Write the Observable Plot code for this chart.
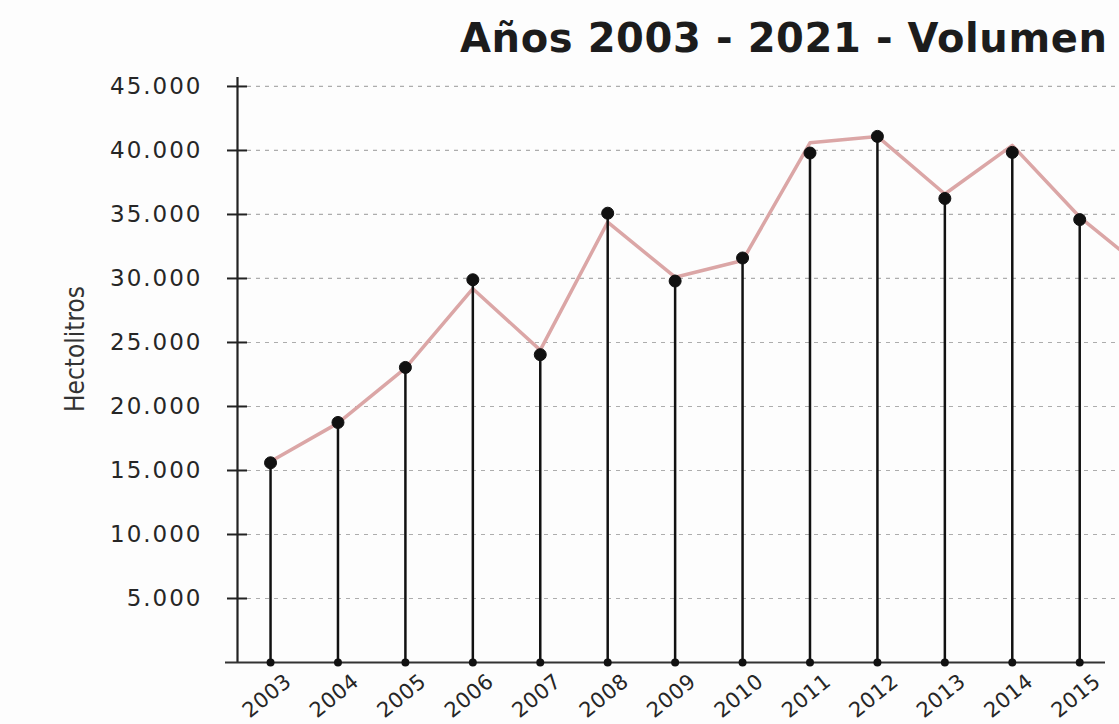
<!DOCTYPE html>
<html>
<head>
<meta charset="utf-8">
<script src="https://cdn.jsdelivr.net/npm/d3@7"></script>
<script src="https://cdn.jsdelivr.net/npm/@observablehq/plot@0.6"></script>
<style>
  html, body { margin: 0; padding: 0; background: #fdfdfd; }
  #wrap { width: 1119px; height: 724px; overflow: hidden; }
  #title {
    box-sizing: border-box; height: 70px; padding-top: 18px; padding-left: 460px;
    font-family: "DejaVu Sans", sans-serif; font-weight: bold; font-size: 40px; line-height: 40px;
    letter-spacing: 0.6px; color: #1c1c1c; white-space: nowrap; overflow: hidden;
  }
  g[aria-label="y-axis tick label"] text { letter-spacing: 2px; }
  g[aria-label="x-axis tick label"] text { letter-spacing: 0.5px; }
</style>
</head>
<body>
<div id="wrap">
  <div id="title">Años 2003 - 2021 - Volumen</div>
  <div id="chart"></div>
</div>
<script>
// Data
const years = [2003, 2004, 2005, 2006, 2007, 2008, 2009, 2010, 2011, 2012, 2013, 2014, 2015];
const dotValues = [15600, 18750, 23050, 29900, 24050, 35100, 29800, 31600, 39800, 41100, 36250, 39850, 34600];
const lineYears = [2003, 2004, 2005, 2006, 2007, 2008, 2009, 2010, 2011, 2012, 2013, 2014, 2015, 2016];
const lineValues = [15700, 18700, 23000, 29200, 24400, 34400, 30100, 31400, 40600, 41100, 36600, 40400, 34800, 30500];
const yTicks = [5000, 10000, 15000, 20000, 25000, 30000, 35000, 40000, 45000];
const yLabel = "Hectolitros";

const xDomain = [2002.51, 2015.59];
const fmt = d3.formatLocale({decimal: ",", thousands: ".", grouping: [3], currency: ["", "€"]}).format(",");

const chart = Plot.plot({
  width: 1119,
  height: 654,
  marginLeft: 237,
  marginRight: 0,
  marginTop: 7,
  marginBottom: 62,
  style: {fontFamily: "DejaVu Sans, sans-serif", background: "transparent", overflow: "hidden"},
  x: {domain: xDomain},
  y: {domain: [0, 45700]},
  marks: [
    Plot.gridY(yTicks, {stroke: "#8a8a8a", strokeOpacity: 0.7, strokeDasharray: "4,5", strokeWidth: 1.2, insetLeft: 10}),
    Plot.axisY(yTicks, {tickSize: 0, tickPadding: 35, fontSize: 23, fill: "#262626", tickFormat: fmt, label: null}),
    Plot.axisY(yTicks, {tickSize: 20, dx: 10, tickFormat: () => "", stroke: "#222", strokeWidth: 2, label: null}),
    Plot.ruleX([xDomain[0]], {stroke: "#222", strokeWidth: 2.2}),
    Plot.ruleY([0], {stroke: "#333", strokeWidth: 2, insetLeft: -12, insetRight: 14}),
    Plot.line(lineYears, {x: lineYears, y: lineValues, stroke: "#dba6a6", strokeWidth: 3.5, clip: true}),
    Plot.ruleX(years, {x: years, y1: 0, y2: dotValues, stroke: "#111", strokeWidth: 2.5}),
    Plot.dot(years, {x: years, y: dotValues, r: 6, fill: "#111", stroke: "#111", strokeWidth: 1}),
    Plot.dot(years, {x: years, y: 0, r: 4, fill: "#111"}),
    Plot.axisX(years, {tickSize: 0, tickPadding: 16, tickRotate: -39, dx: 18, fontSize: 21, fill: "#262626", tickFormat: d => String(d), label: null}),
    Plot.text([yLabel], {frameAnchor: "left", textAnchor: "middle", dx: -162, dy: -21, rotate: -90, fontSize: 26, fill: "#333",
      fontFamily: "Liberation Sans Narrow, DejaVu Sans Condensed, sans-serif"})
  ]
});
document.getElementById("chart").appendChild(chart);
</script>
</body>
</html>
